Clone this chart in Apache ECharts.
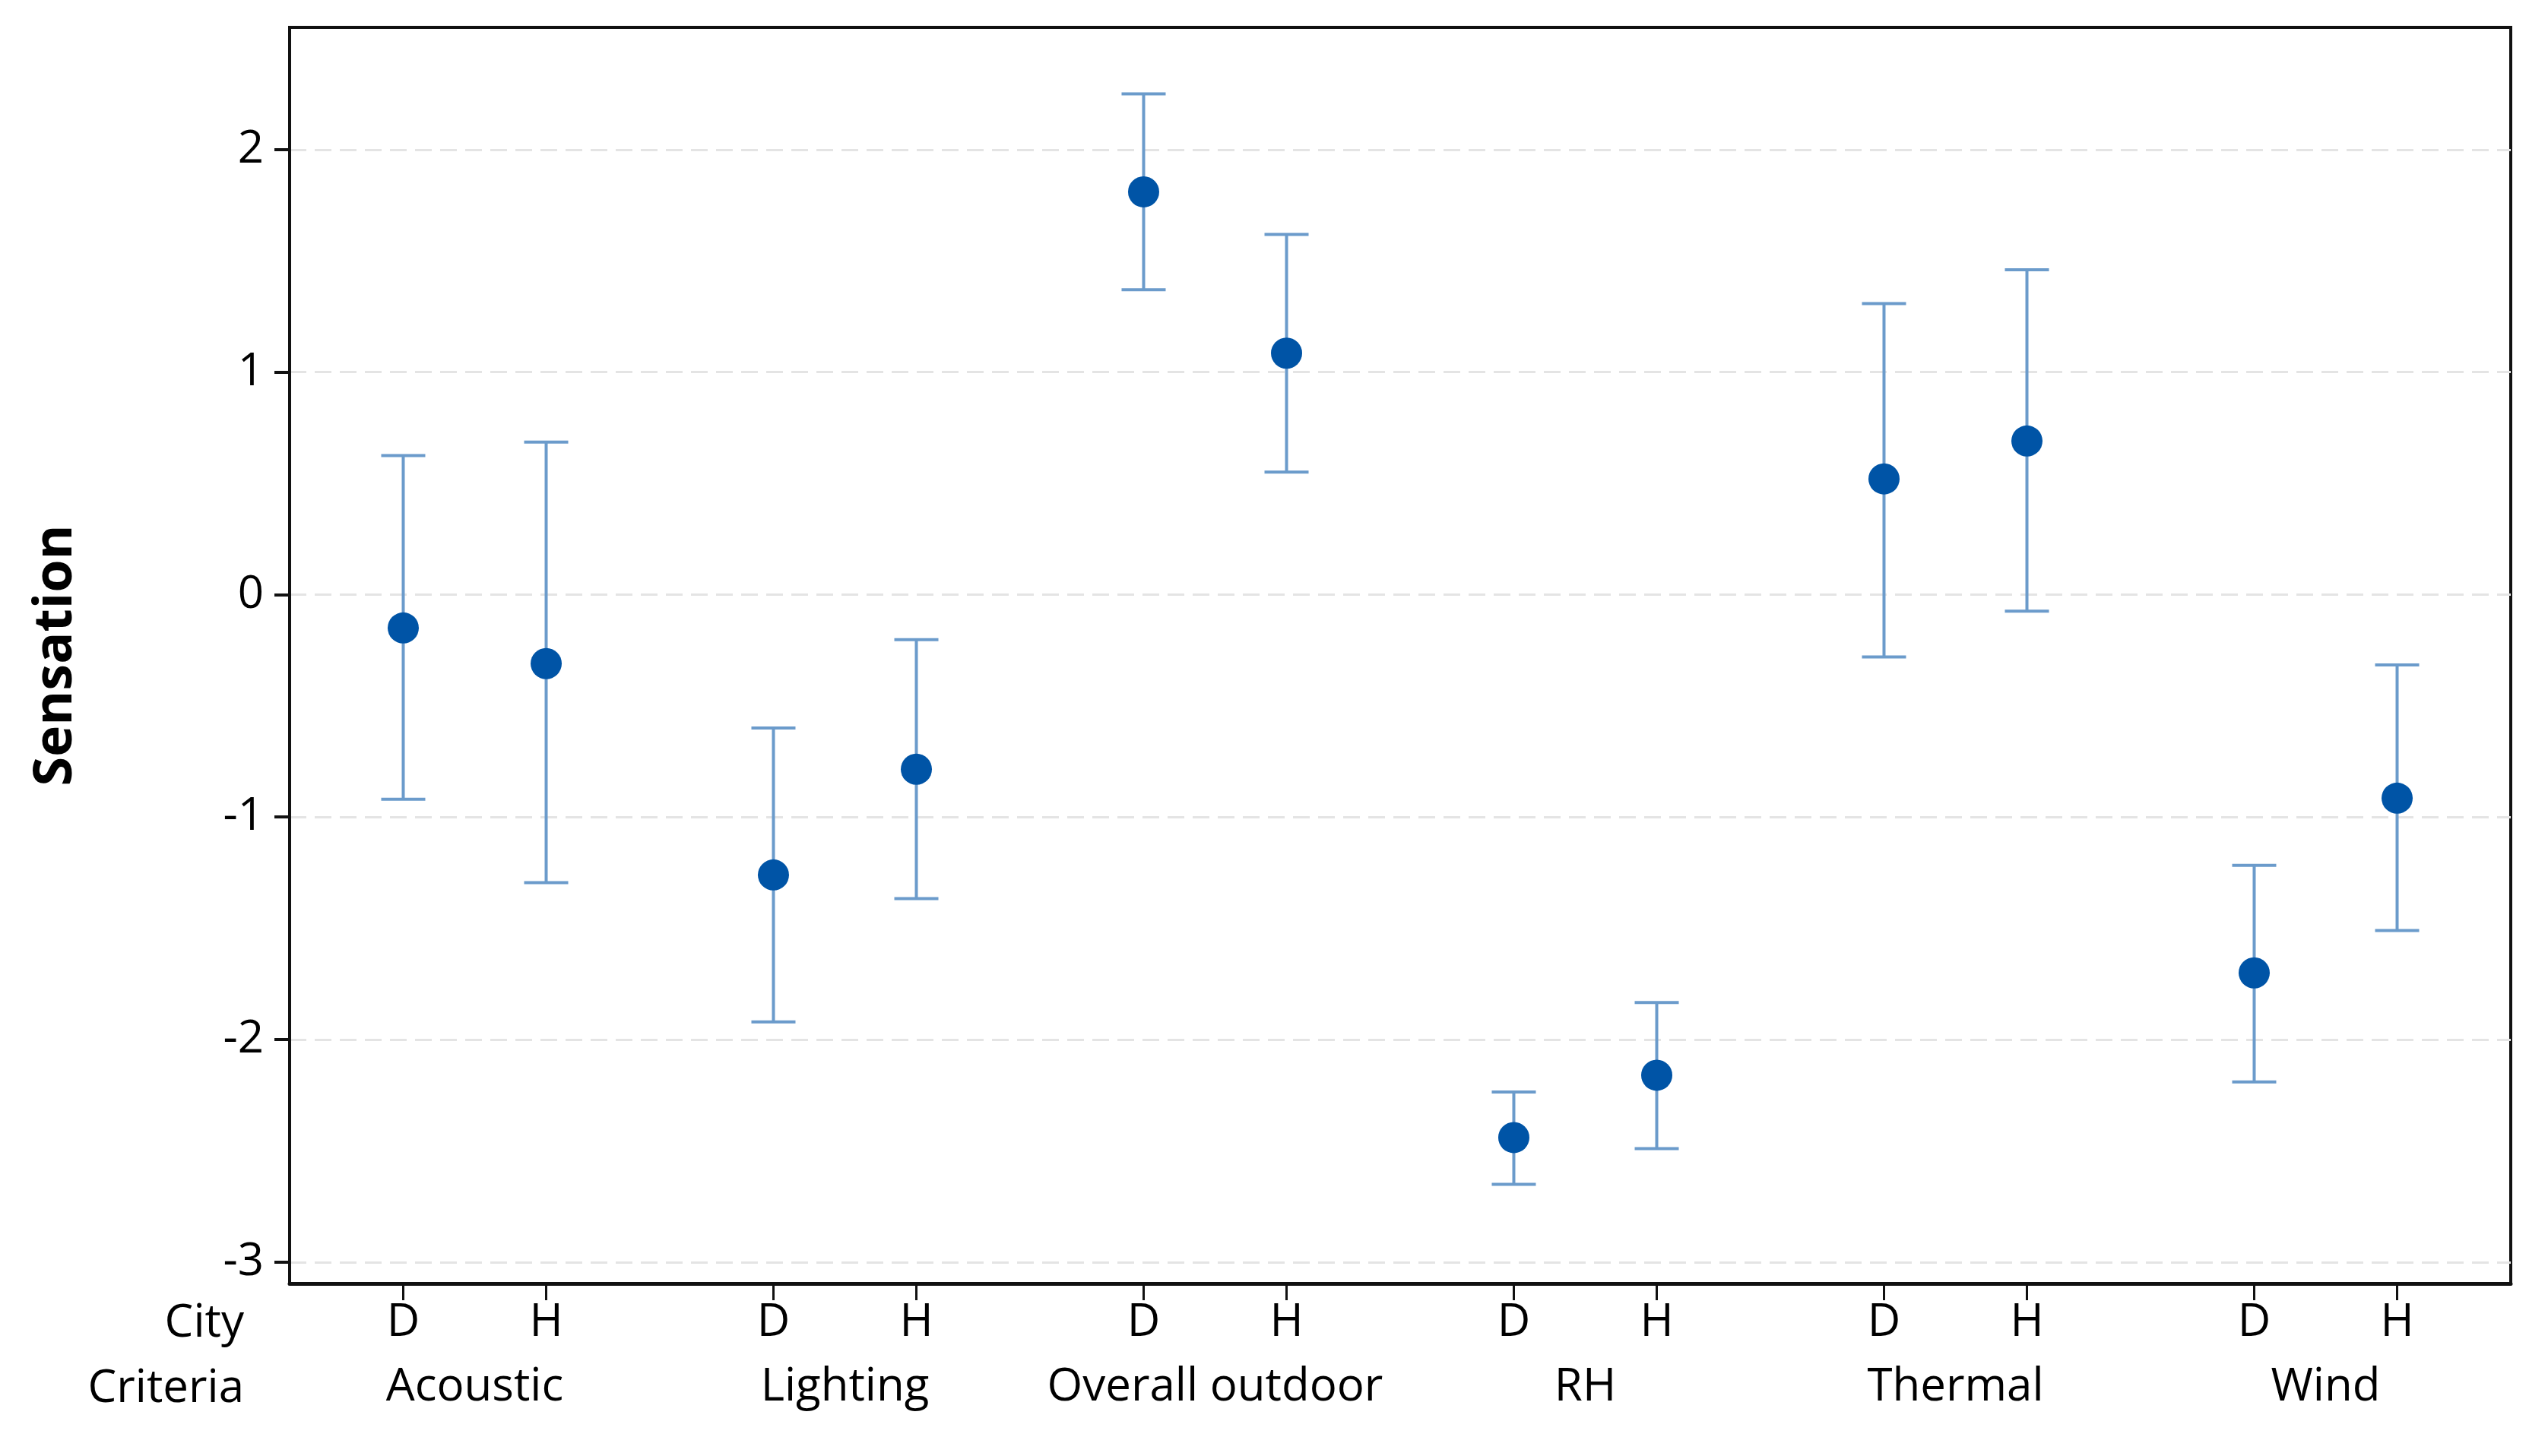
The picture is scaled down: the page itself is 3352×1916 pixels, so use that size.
<!DOCTYPE html>
<html>
<head>
<meta charset="utf-8">
<script src="https://cdn.jsdelivr.net/npm/echarts@6/dist/echarts.min.js"></script>
<style>
  html, body { margin: 0; padding: 0; background: #fff; }
  #chart { width: 3352px; height: 1916px; }
</style>
</head>
<body>
<div id="chart"></div>
<script>
// ---- data ----
var criteria = ['Acoustic', 'Lighting', 'Overall outdoor', 'RH', 'Thermal', 'Wind'];
var cities = ['D', 'H'];
var meanD  = [-0.15, -1.26, 1.81, -2.44, 0.52, -1.70];
var lowerD = [-0.92, -1.92, 1.37, -2.65, -0.28, -2.19];
var upperD = [0.625, -0.60, 2.25, -2.235, 1.308, -1.217];
var meanH  = [-0.31, -0.785, 1.085, -2.16, 0.69, -0.915];
var lowerH = [-1.295, -1.366, 0.55, -2.49, -0.075, -1.51];
var upperH = [0.685, -0.203, 1.618, -1.833, 1.46, -0.316];
var yTicks = [-3, -2, -1, 0, 1, 2];

// ---- layout helpers ----
var GROUP_STEP = 2.59;   // distance between groups, in units of the D-H spacing
var MARGIN = 0.795;
function pos(g, c) { return g * GROUP_STEP + c; }

var tickPos = [], tickLab = [], groupPos = [];
var scatterData = [], barData = [];
for (var g = 0; g < criteria.length; g++) {
  groupPos.push(pos(g, 0.5));
  var means = [meanD[g], meanH[g]];
  var lows = [lowerD[g], lowerH[g]];
  var ups = [upperD[g], upperH[g]];
  for (var c = 0; c < cities.length; c++) {
    var x = pos(g, c);
    tickPos.push(x);
    tickLab.push(cities[c]);
    scatterData.push([x, means[c]]);
    barData.push([x, lows[c], ups[c]]);
  }
}
function nearestIdx(arr, v) {
  var best = 0;
  for (var i = 1; i < arr.length; i++) if (Math.abs(arr[i] - v) < Math.abs(arr[best] - v)) best = i;
  return best;
}

var FONT = 'Open Sans';
var chart = echarts.init(document.getElementById('chart'));
chart.setOption({
  backgroundColor: '#fff',
  animation: false,
  grid: {
    left: 381, right: 49, top: 36, bottom: 227,
    show: true, borderColor: '#111', borderWidth: 4,
    outerBoundsMode: 'none'
  },
  xAxis: [{
    type: 'value',
    min: -MARGIN,
    max: pos(criteria.length - 1, 1) + MARGIN,
    position: 'bottom',
    axisLine: { show: true, onZero: false, lineStyle: { color: '#111', width: 5 } },
    axisTick: { show: true, customValues: tickPos, length: 22, lineStyle: { color: '#111', width: 3 } },
    axisLabel: {
      customValues: tickPos, margin: 22,
      fontFamily: FONT, fontSize: 60, color: '#000',
      formatter: function (v) { return tickLab[nearestIdx(tickPos, v)]; }
    },
    splitLine: { show: false }
  }, {
    type: 'value',
    min: -MARGIN,
    max: pos(criteria.length - 1, 1) + MARGIN,
    position: 'bottom',
    offset: 87,
    axisLine: { show: false },
    axisTick: { show: false },
    axisLabel: {
      customValues: groupPos, margin: 20,
      fontFamily: FONT, fontSize: 60, color: '#000',
      formatter: function (v) { return criteria[nearestIdx(groupPos, v)]; }
    },
    splitLine: { show: false }
  }],
  yAxis: {
    type: 'value',
    min: -3.096,
    max: 2.549,
    name: 'Sensation',
    nameLocation: 'middle',
    nameRotate: 90,
    nameGap: 272,
    nameTextStyle: { fontFamily: FONT, fontSize: 70, fontWeight: 'bold', color: '#000' },
    axisLine: { show: true, onZero: false, lineStyle: { color: '#111', width: 4 } },
    axisTick: { show: true, customValues: yTicks, length: 20, lineStyle: { color: '#111', width: 4 } },
    axisLabel: {
      customValues: yTicks, margin: 34,
      fontFamily: FONT, fontSize: 60, color: '#000'
    },
    splitLine: { show: true, lineStyle: { color: '#e4e4e4', width: 3, type: [22, 11] } }
  },
  graphic: [
    { type: 'text', right: 3352 - 321, top: 1712,
      style: { text: 'City', fontFamily: FONT, fontSize: 60, fill: '#000', textAlign: 'right' } },
    { type: 'text', right: 3352 - 321, top: 1798,
      style: { text: 'Criteria', fontFamily: FONT, fontSize: 60, fill: '#000', textAlign: 'right' } }
  ],
  series: [{
    type: 'custom',
    xAxisIndex: 0,
    z: 2,
    data: barData,
    renderItem: function (params, api) {
      var x = api.value(0);
      var lo = api.coord([x, api.value(1)]);
      var hi = api.coord([x, api.value(2)]);
      var hw = 29;
      var st = { stroke: '#6b9bcb', lineWidth: 4 };
      return {
        type: 'group',
        children: [
          { type: 'line', shape: { x1: lo[0], y1: lo[1], x2: hi[0], y2: hi[1] }, style: st },
          { type: 'line', shape: { x1: lo[0] - hw, y1: lo[1], x2: lo[0] + hw, y2: lo[1] }, style: st },
          { type: 'line', shape: { x1: hi[0] - hw, y1: hi[1], x2: hi[0] + hw, y2: hi[1] }, style: st }
        ]
      };
    }
  }, {
    type: 'scatter',
    xAxisIndex: 0,
    z: 3,
    symbol: 'circle',
    symbolSize: 41,
    itemStyle: { color: '#0054a6', opacity: 1 },
    data: scatterData
  }]
});
</script>
</body>
</html>
